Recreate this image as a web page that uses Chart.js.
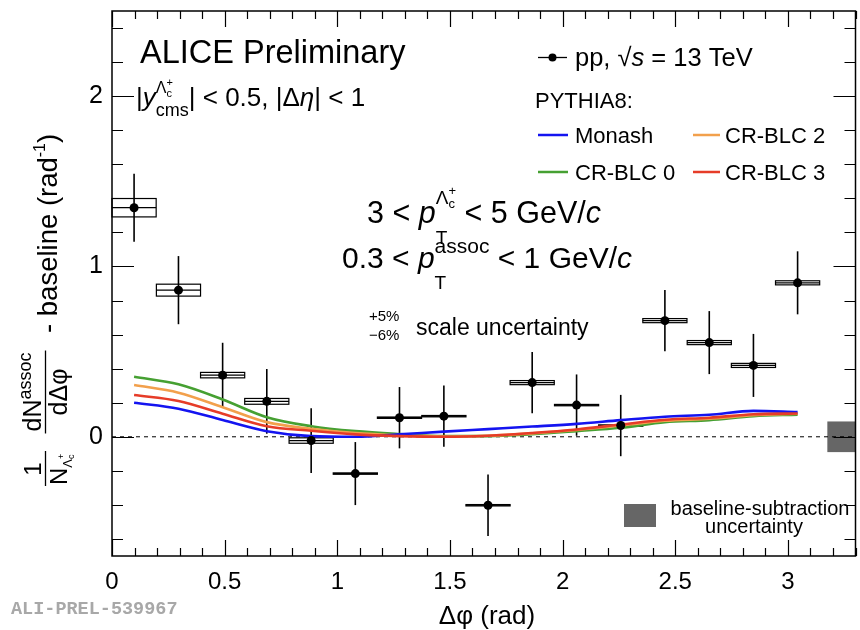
<!DOCTYPE html>
<html><head><meta charset="utf-8">
<script src="https://cdn.jsdelivr.net/npm/chart.js@4.4.1/dist/chart.umd.min.js"></script>
<style>html,body{margin:0;padding:0;background:#fff;}canvas{display:block;}</style>
</head><body>
<canvas id="c" width="860" height="630"></canvas>
<script>
// ---- data ----
const binCenters = [0.098,0.295,0.491,0.687,0.884,1.080,1.276,1.473,1.669,1.865,2.062,2.258,2.454,2.651,2.847,3.043];
const binWidth = 0.196;
const dataY   = [1.345,0.861,0.362,0.208,-0.022,-0.216,0.112,0.121,-0.402,0.318,0.186,0.066,0.682,0.553,0.419,0.904];
const statErr = [0.20,0.20,0.19,0.19,0.19,0.185,0.18,0.18,0.18,0.18,0.18,0.18,0.18,0.185,0.185,0.185];
const sysErr  = [0.054,0.035,0.016,0.017,0.016,0.004,0.004,0.004,0.004,0.012,0.004,0.004,0.012,0.012,0.012,0.012];
const monash  = [0.200,0.165,0.098,0.033,0.004,0.000,0.015,0.030,0.045,0.060,0.076,0.098,0.118,0.129,0.152,0.145];
const crblc0  = [0.353,0.308,0.219,0.115,0.062,0.033,0.016,0.004,0.004,0.015,0.033,0.053,0.086,0.098,0.121,0.130];
const crblc2  = [0.304,0.259,0.174,0.086,0.047,0.022,0.009,0.002,0.006,0.020,0.040,0.066,0.094,0.106,0.126,0.135];
const crblc3  = [0.245,0.210,0.135,0.062,0.035,0.014,0.004,0.000,0.006,0.022,0.043,0.072,0.100,0.112,0.132,0.137];
const baselineUnc = 0.09;
const baselineBoxX = [3.175, 3.3];
const xTickValues = [0,0.5,1,1.5,2,2.5,3];
const xTickLabels = ['0','0.5','1','1.5','2','2.5','3'];
const yTickValues = [0,1,2];
const yTickLabels = ['0','1','2'];
const xRange = [0, 3.3];
const yRange = [-0.7, 2.5];

const FF = '"Liberation Sans", Arial, Helvetica, sans-serif';
const COL = {monash:'#1414f0', c0:'#46a032', c2:'#f2a04c', c3:'#e63c28'};

function fnt(p){ return (p.it?'italic ':'') + (p.b?'bold ':'') + p.s + 'px ' + (p.ff||FF); }
function widthOf(ctx, parts){ let w=0; for(const p of parts){ if(p.stack){ w += Math.max(...p.stack.map(a=>widthOf(ctx,a))); } else { ctx.font=fnt(p); w += ctx.measureText(p.t).width + (p.k||0); } } return w; }
function drawParts(ctx, x, y, parts){ for(const p of parts){ if(p.stack){ const ws=p.stack.map(a=>widthOf(ctx,a)); p.stack.forEach(a=>drawParts(ctx,x,y,a)); x += Math.max(...ws);} else { ctx.font=fnt(p); ctx.fillText(p.t, x, y+(p.dy||0)); x += ctx.measureText(p.t).width + (p.k||0);} } return x; }
function rich(ctx, x, y, parts, align){ const w=widthOf(ctx,parts); if(align==='center') x-=w/2; else if(align==='right') x-=w; return drawParts(ctx,x,y,parts); }

const rootPlugin = {
  id:'rootStyle',
  beforeDatasetsDraw(chart){
    const {ctx, chartArea:a, scales:{x,y}} = chart;
    ctx.save();
    ctx.fillStyle = '#666666';
    const bx0 = x.getPixelForValue(baselineBoxX[0]), bx1 = x.getPixelForValue(baselineBoxX[1]);
    const by0 = y.getPixelForValue(baselineUnc), by1 = y.getPixelForValue(-baselineUnc);
    ctx.fillRect(bx0, by0, bx1-bx0, by1-by0);
    ctx.strokeStyle = '#000';
    binCenters.forEach((c,i)=>{
      const px = x.getPixelForValue(c);
      const xl = x.getPixelForValue(c-binWidth/2), xr = x.getPixelForValue(c+binWidth/2);
      const yv = y.getPixelForValue(dataY[i]);
      ctx.lineWidth = 1.6;
      ctx.beginPath();
      ctx.moveTo(px, y.getPixelForValue(dataY[i]+statErr[i]));
      ctx.lineTo(px, y.getPixelForValue(dataY[i]-statErr[i]));
      ctx.stroke();
      const yt = y.getPixelForValue(dataY[i]+sysErr[i]), yb = y.getPixelForValue(dataY[i]-sysErr[i]);
      ctx.lineWidth = 1.2;
      ctx.strokeRect(xl, yt, xr-xl, Math.max(yb-yt,1));
      ctx.beginPath(); ctx.moveTo(xl, yv); ctx.lineTo(xr, yv); ctx.stroke();
    });
    ctx.restore();
  },
  afterDraw(chart){
    const {ctx, chartArea:a, scales:{x,y}} = chart;
    ctx.save();
    ctx.strokeStyle = '#000';
    ctx.lineWidth = 1.5;
    ctx.strokeRect(a.left, a.top, a.right-a.left, a.bottom-a.top);
    ctx.lineWidth = 1.2;
    ctx.beginPath();
    for(let k=0; k<=33; k++){
      const v=k*0.1;
      const major = k%5===0;
      const L = major?16:8, px = Math.round(x.getPixelForValue(v))+0.5;
      ctx.moveTo(px,a.bottom); ctx.lineTo(px,a.bottom-L);
      ctx.moveTo(px,a.top); ctx.lineTo(px,a.top+L);
    }
    for(let k=-3; k<=12; k++){
      const v=k*0.2; if(v<yRange[0]||v>yRange[1]) continue;
      const major = k%5===0;
      const L = major?22:11, py = Math.round(y.getPixelForValue(v))+0.5;
      ctx.moveTo(a.left,py); ctx.lineTo(a.left+L,py);
      ctx.moveTo(a.right,py); ctx.lineTo(a.right-L,py);
    }
    ctx.stroke();

    ctx.fillStyle = '#000';
    ctx.textAlign = 'left'; ctx.textBaseline = 'alphabetic';
    rich(ctx, 140, 63, [{t:'ALICE Preliminary', s:32.5}]);
    rich(ctx, 136, 106, [
      {t:'|',s:26},{t:'y',s:26,it:1},
      {stack:[[{t:'\u039B',s:16,dy:-13},{stack:[[{t:'c',s:11,dy:-9}],[{t:'+',s:11,dy:-20}]]}],[{t:'cms',s:18,dy:10}]]},
      {t:'| < 0.5, |\u0394',s:26},{t:'\u03B7',s:26,it:1},{t:'| < 1',s:26}
    ]);
    rich(ctx, 484, 223, [
      {t:'3 < ',s:30.5},{t:'p',s:30.5,it:1},
      {stack:[[{t:'\u039B',s:19,dy:-19},{stack:[[{t:'c',s:13,dy:-15}],[{t:'+',s:13,dy:-28}]]}],[{t:'T',s:19,dy:21}]]},
      {t:' < 5 GeV/',s:30.5},{t:'c',s:30.5,it:1}
    ], 'center');
    rich(ctx, 487, 268, [
      {t:'0.3 < ',s:30},{t:'p',s:30,it:1},
      {stack:[[{t:'assoc',s:21,dy:-15}],[{t:'T',s:19,dy:21}]]},
      {t:' < 1 GeV/',s:30},{t:'c',s:30,it:1}
    ], 'center');
    rich(ctx, 369, 321, [{t:'+5%',s:15}]);
    rich(ctx, 369, 340, [{t:'\u22126%',s:15}]);
    rich(ctx, 416, 335, [{t:'scale uncertainty',s:23}]);

    ctx.lineWidth = 1.3;
    ctx.beginPath(); ctx.moveTo(538,57.5); ctx.lineTo(567,57.5); ctx.stroke();
    ctx.beginPath(); ctx.arc(552.5,57.5,4,0,Math.PI*2); ctx.fill();
    rich(ctx, 575, 66, [{t:'pp, ',s:25.5},{t:'\u221A',s:25.5},{t:'s',s:25.5,it:1},{t:' = 13 TeV',s:25.5}]);
    rich(ctx, 535, 108, [{t:'PYTHIA8:',s:22}]);
    const leg = [[538,135,COL.monash,'Monash',37],[693,135,COL.c2,'CR-BLC 2',32],[538,172,COL.c0,'CR-BLC 0',37],[693,172,COL.c3,'CR-BLC 3',32]];
    leg.forEach(([lx,ly,c,t,off])=>{
      ctx.strokeStyle=c; ctx.lineWidth=2.5;
      ctx.beginPath(); ctx.moveTo(lx,ly); ctx.lineTo(lx+(off===37?30:27),ly); ctx.stroke();
      ctx.fillStyle='#000';
      rich(ctx, lx+off, ly+8, [{t:t,s:22}]);
    });

    ctx.fillStyle='#666666'; ctx.fillRect(624,504,32,23);
    ctx.fillStyle='#000';
    rich(ctx, 760, 515, [{t:'baseline-subtraction',s:20}], 'center');
    rich(ctx, 754, 533, [{t:'uncertainty',s:20}], 'center');

    rich(ctx, 487, 624, [{t:'\u0394\u03C6 (rad)',s:26}], 'center');
    ctx.fillStyle='#a8a8a8';
    rich(ctx, 11, 614, [{t:'ALI-PREL-539967',s:18.5,b:1,ff:'"Liberation Mono", "DejaVu Sans Mono", monospace'}]);

    ctx.fillStyle='#000'; ctx.strokeStyle='#000';
    ctx.save();
    ctx.rotate(-Math.PI/2);
    rich(ctx, -469, 41, [{t:'1',s:24}], 'center');
    ctx.lineWidth=1.3;
    ctx.beginPath(); ctx.moveTo(-486,45.5); ctx.lineTo(-451,45.5); ctx.stroke();
    rich(ctx, -485, 67, [{t:'N',s:24},{stack:[[{t:'\u039B',s:13,dy:5},{stack:[[{t:'c',s:9,dy:7}],[{t:'+',s:9,dy:-3}]]}]]}]);
    const numParts = [{t:'dN',s:25},{t:'assoc',s:18,dy:-10}];
    const numW = widthOf(ctx,numParts);
    const nc = -392;
    rich(ctx, nc, 41, numParts, 'center');
    ctx.beginPath(); ctx.moveTo(nc-numW/2-2,45.5); ctx.lineTo(nc+numW/2+2,45.5); ctx.stroke();
    rich(ctx, nc, 67, [{t:'d\u0394\u03C6',s:25}], 'center');
    rich(ctx, -333, 57, [{t:'- baseline (rad',s:27.5},{t:'-1',s:16,dy:-12},{t:')',s:27.5}]);
    ctx.restore();
    ctx.restore();
  }
};

const pts = binCenters.map((c,i)=>({x:c, y:dataY[i]}));
const line = (arr)=>binCenters.map((c,i)=>({x:c, y:arr[i]}));
const lineDs = (label, arr, color)=>({label, type:'line', data:line(arr), borderColor:color, backgroundColor:color, borderWidth:2.6, pointRadius:0, cubicInterpolationMode:'monotone', fill:false});
const zeroPad = (s)=>{ s.paddingTop=0; s.paddingBottom=0; s.paddingLeft=0; s.paddingRight=0; };

new Chart(document.getElementById('c'), {
  type:'scatter',
  data:{datasets:[
    {label:'pp 13 TeV', data:pts, pointRadius:4.5, pointHoverRadius:4.5, backgroundColor:'#000', borderColor:'#000', borderWidth:0},
    lineDs('CR-BLC 3', crblc3, COL.c3),
    lineDs('Monash', monash, COL.monash),
    lineDs('CR-BLC 2', crblc2, COL.c2),
    lineDs('CR-BLC 0', crblc0, COL.c0),
    {label:'zero', type:'line', data:[{x:xRange[0],y:0},{x:xRange[1],y:0}], borderColor:'#000', borderWidth:1, borderDash:[4,4], pointRadius:0, fill:false}
  ]},
  options:{
    responsive:false, animation:false, devicePixelRatio:1,
    layout:{padding:{top:11,right:3,left:0,bottom:0}},
    plugins:{legend:{display:false}, tooltip:{enabled:false}},
    scales:{
      x:{type:'linear', min:xRange[0], max:xRange[1],
        afterFit(s){ s.height = 74; zeroPad(s); },
        afterBuildTicks(s){ s.ticks = xTickValues.map(v=>({value:v})); },
        ticks:{callback:(v,i)=>xTickLabels[i], font:{family:FF,size:24}, color:'#000', padding:12, maxRotation:0, autoSkip:false},
        grid:{display:false, drawTicks:false}, border:{display:false}},
      y:{type:'linear', min:yRange[0], max:yRange[1],
        afterFit(s){ s.width = 112; zeroPad(s); },
        afterBuildTicks(s){ s.ticks = yTickValues.map(v=>({value:v})); },
        ticks:{callback:(v,i)=>yTickLabels[i], font:{family:FF,size:25}, color:'#000', padding:9, autoSkip:false},
        grid:{display:false, drawTicks:false}, border:{display:false}}
    }
  },
  plugins:[rootPlugin]
});
</script>
</body></html>
